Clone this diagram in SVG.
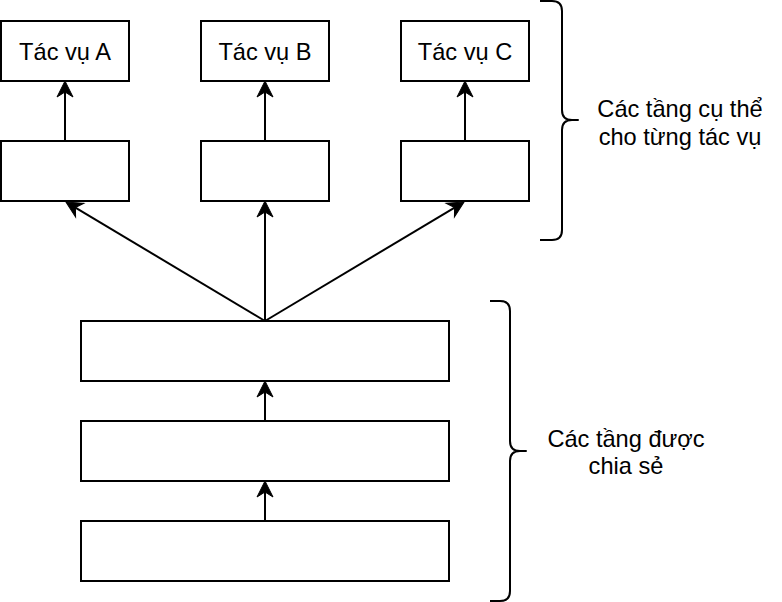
<svg xmlns="http://www.w3.org/2000/svg" width="782" height="602" viewBox="0 0 782 602">
  <style>
    .box { fill: #ffffff; stroke: #000000; stroke-width: 2; }
    .edge { fill: none; stroke: #000000; stroke-width: 2; }
    .brace { fill: none; stroke: #000000; stroke-width: 2; stroke-linejoin: round; }
    .lbl { font-family: "Liberation Sans", Arial, Helvetica, sans-serif; font-size: 23.6px; fill: #000000; text-anchor: middle; }
  </style>
  <defs>
    <marker id="arrow" markerUnits="userSpaceOnUse" markerWidth="26" markerHeight="26" refX="0" refY="0" viewBox="-7 -13 26 26" orient="auto" overflow="visible">
      <path d="M-5,-8 L11,0 L-5,8 L0,0 Z" fill="#000000" stroke="#000000" stroke-width="1"/>
    </marker>
  </defs>
  <rect width="782" height="602" fill="#ffffff"/>

  <g id="task-a">
    <rect class="box" x="1" y="21" width="128" height="60"/>
    <text class="lbl" x="65" y="60">Tác vụ A</text>
  </g>
  <g id="task-b">
    <rect class="box" x="201" y="21" width="128" height="60"/>
    <text class="lbl" x="265" y="60">Tác vụ B</text>
  </g>
  <g id="task-c">
    <rect class="box" x="401" y="21" width="128" height="60"/>
    <text class="lbl" x="465" y="60">Tác vụ C</text>
  </g>

  <g id="specific-a"><rect class="box" x="1" y="141" width="128" height="60"/></g>
  <g id="specific-b"><rect class="box" x="201" y="141" width="128" height="60"/></g>
  <g id="specific-c"><rect class="box" x="401" y="141" width="128" height="60"/></g>

  <g id="shared-1"><rect class="box" x="81" y="321" width="368" height="60"/></g>
  <g id="shared-2"><rect class="box" x="81" y="421" width="368" height="60"/></g>
  <g id="shared-3"><rect class="box" x="81" y="521" width="368" height="60"/></g>

  <g id="connectors">
    <line class="edge" x1="65" y1="141" x2="65" y2="92" marker-end="url(#arrow)"/>
    <line class="edge" x1="265" y1="141" x2="265" y2="92" marker-end="url(#arrow)"/>
    <line class="edge" x1="465" y1="141" x2="465" y2="92" marker-end="url(#arrow)"/>
    <line class="edge" x1="265" y1="321" x2="75.4" y2="207.6" marker-end="url(#arrow)"/>
    <line class="edge" x1="265" y1="321" x2="265" y2="212" marker-end="url(#arrow)"/>
    <line class="edge" x1="265" y1="321" x2="454.6" y2="207.6" marker-end="url(#arrow)"/>
    <line class="edge" x1="265" y1="421" x2="265" y2="392" marker-end="url(#arrow)"/>
    <line class="edge" x1="265" y1="521" x2="265" y2="492" marker-end="url(#arrow)"/>
  </g>

  <g id="brace-specific">
    <path class="brace" d="M540,1 L552,1 Q562,1 562,11 L562,110 Q562,120 572,120 L578,120 L572,120 Q562,120 562,130 L562,230 Q562,240 552,240 L540,240"/>
    <text class="lbl" x="680" y="117">Các tầng cụ thể</text>
    <text class="lbl" x="680" y="145">cho từng tác vụ</text>
  </g>

  <g id="brace-shared">
    <path class="brace" d="M490,301 L500,301 Q510,301 510,311 L510,441 Q510,451 520,451 L526,451 L520,451 Q510,451 510,461 L510,591 Q510,601 500,601 L490,601"/>
    <text class="lbl" x="626" y="447">Các tầng được</text>
    <text class="lbl" x="626" y="474">chia sẻ</text>
  </g>
</svg>
